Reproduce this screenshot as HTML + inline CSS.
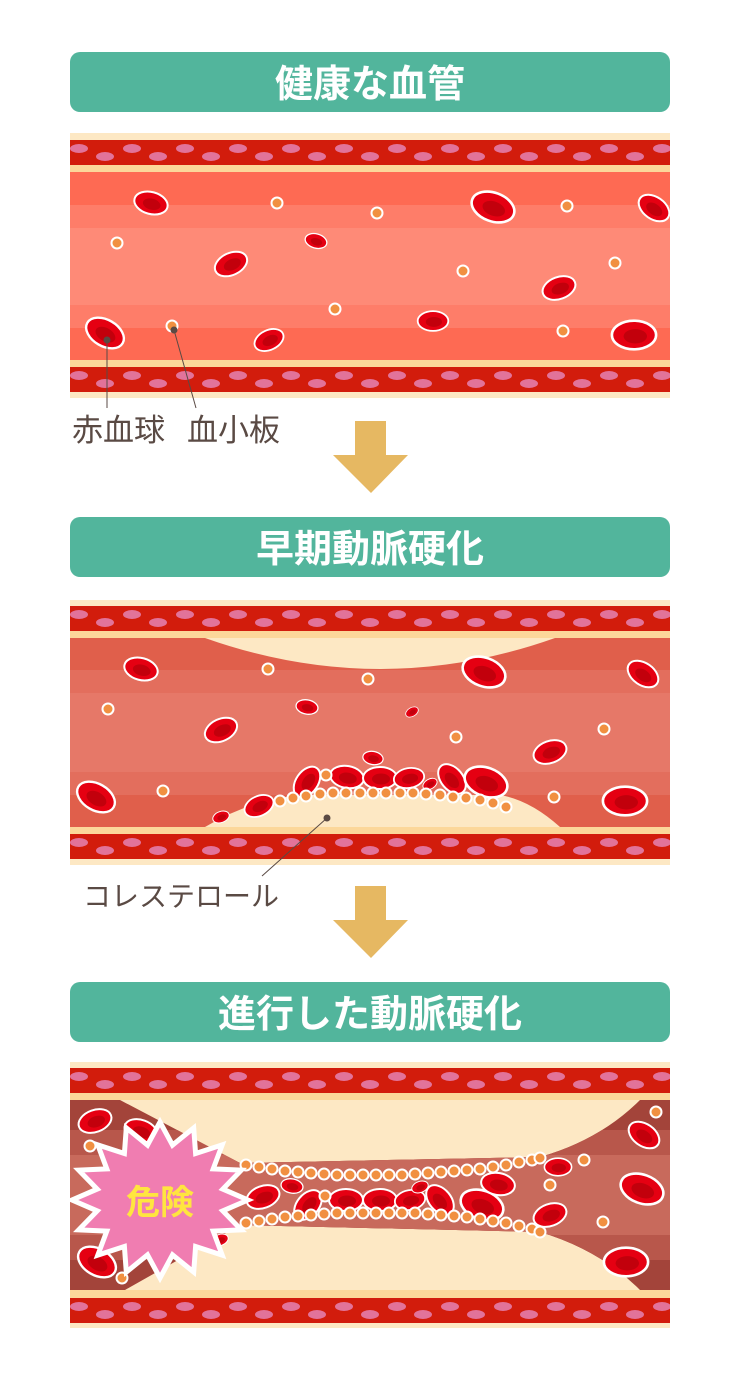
<!DOCTYPE html>
<html><head><meta charset="utf-8"><style>
html,body{margin:0;padding:0;background:#fff;width:740px;height:1380px;overflow:hidden}
svg{display:block}
text{font-family:"Liberation Sans","Noto Sans CJK JP",sans-serif}
</style></head><body>
<svg width="740" height="1380" viewBox="0 0 740 1380" xmlns="http://www.w3.org/2000/svg">
<defs>
<pattern id="wall" x="70" y="0" width="53" height="25" patternUnits="userSpaceOnUse">
<ellipse cx="9" cy="8.5" rx="9" ry="4.5" fill="#e2739a"/>
<ellipse cx="35" cy="16.5" rx="9" ry="4.5" fill="#e2739a"/>
</pattern>
<g id="w"><rect x="70" y="0" width="600" height="25" fill="#d21c0c"/><rect x="70" y="0" width="600" height="25" fill="url(#wall)"/></g>
<g id="rbc"><ellipse rx="17" ry="11" fill="#e50012" stroke="#fff" stroke-width="2"/><ellipse cx="1" cy="1" rx="9" ry="5.5" fill="#c2000c"/></g>
<g id="plt"><circle r="5.5" fill="#f19041" stroke="#fff" stroke-width="2"/></g>
<clipPath id="c3"><path d="M70,1100 L120,1100 L240,1163 L540,1157 Q600,1140 640,1100 L670,1100 L670,1290 L640,1290 Q600,1250 540,1232 L240,1225 L125,1290 L70,1290 Z"/></clipPath>
</defs>

<rect x="70" y="52" width="600" height="60" rx="10" fill="#52b59c"/>
<text x="370" y="97" font-size="38" font-weight="bold" fill="#fff" text-anchor="middle">健康な血管</text>
<rect x="70" y="517" width="600" height="60" rx="10" fill="#52b59c"/>
<text x="370" y="562" font-size="38" font-weight="bold" fill="#fff" text-anchor="middle">早期動脈硬化</text>
<rect x="70" y="982" width="600" height="60" rx="10" fill="#52b59c"/>
<text x="370" y="1027" font-size="38" font-weight="bold" fill="#fff" text-anchor="middle">進行した動脈硬化</text>

<polygon points="355,421 386,421 386,455 408,455 371,493 333,455 355,455" fill="#e6b862"/>
<polygon points="355,886 386,886 386,920 408,920 371,958 333,920 355,920" fill="#e6b862"/>

<!-- vessel 1 -->
<rect x="70" y="133" width="600" height="265" fill="#fde8c4"/>
<use href="#w" transform="translate(0,140)"/>
<rect x="70" y="165" width="600" height="7" fill="#fcd79a"/>
<rect x="70" y="172" width="600" height="188" fill="#fe6a53"/>
<rect x="70" y="205" width="600" height="123" fill="#fe7d69"/>
<rect x="70" y="228" width="600" height="77" fill="#fe8a77"/>
<rect x="70" y="360" width="600" height="7" fill="#fcd79a"/>
<use href="#w" transform="translate(0,367)"/>
<use href="#rbc" transform="translate(151,203) rotate(15)"/>
<use href="#rbc" transform="translate(316,241) rotate(15) scale(0.65)"/>
<use href="#rbc" transform="translate(231,264) rotate(-25)"/>
<use href="#rbc" transform="translate(493,207) rotate(20) scale(1.3)"/>
<use href="#rbc" transform="translate(559,288) rotate(-20)"/>
<use href="#rbc" transform="translate(433,321) scale(0.9)"/>
<use href="#rbc" transform="translate(654,208) rotate(35)"/>
<use href="#rbc" transform="translate(105,333) rotate(30) scale(1.2)"/>
<use href="#rbc" transform="translate(269,340) rotate(-25) scale(0.9)"/>
<use href="#rbc" transform="translate(634,335) scale(1.3)"/>
<use href="#plt" x="277" y="203"/><use href="#plt" x="377" y="213"/><use href="#plt" x="117" y="243"/>
<use href="#plt" x="463" y="271"/><use href="#plt" x="335" y="309"/><use href="#plt" x="567" y="206"/>
<use href="#plt" x="615" y="263"/><use href="#plt" x="563" y="331"/><use href="#plt" x="172" y="326"/>
<line x1="107" y1="340" x2="107" y2="408" stroke="#5a4a44" stroke-width="1"/>
<circle cx="107" cy="340" r="3.5" fill="#5a4a44"/>
<line x1="174" y1="330" x2="196" y2="408" stroke="#5a4a44" stroke-width="1"/>
<circle cx="174" cy="330" r="3.5" fill="#5a4a44"/>
<text x="72" y="441" font-size="31" fill="#5a4a44">赤血球</text>
<text x="187" y="441" font-size="31" fill="#5a4a44">血小板</text>

<!-- vessel 2 -->
<rect x="70" y="600" width="600" height="265" fill="#fde8c4"/>
<use href="#w" transform="translate(0,606)"/>
<rect x="70" y="631" width="600" height="7" fill="#fcd79a"/>
<rect x="70" y="638" width="600" height="189" fill="#e05f4b"/>
<rect x="70" y="670" width="600" height="125" fill="#e36e5d"/>
<rect x="70" y="693" width="600" height="79" fill="#e67868"/>
<path d="M205,638 Q380,700 555,638 Z" fill="#fde8c4"/>
<path d="M205,827 Q250,800 300,795 L500,795 Q530,800 560,827 Z" fill="#fde8c4"/>
<rect x="70" y="827" width="600" height="7" fill="#fcd79a"/>
<use href="#w" transform="translate(0,834)"/>
<use href="#rbc" transform="translate(141,669) rotate(15)"/>
<use href="#rbc" transform="translate(484,672) rotate(20) scale(1.3)"/>
<use href="#rbc" transform="translate(643,674) rotate(35)"/>
<use href="#rbc" transform="translate(307,707) rotate(10) scale(0.65)"/>
<use href="#rbc" transform="translate(412,712) rotate(-30) scale(0.4)"/>
<use href="#rbc" transform="translate(221,730) rotate(-25)"/>
<use href="#rbc" transform="translate(550,752) rotate(-20)"/>
<use href="#rbc" transform="translate(373,758) rotate(10) scale(0.6)"/>
<use href="#rbc" transform="translate(96,797) rotate(30) scale(1.2)"/>
<use href="#rbc" transform="translate(259,806) rotate(-25) scale(0.9)"/>
<use href="#rbc" transform="translate(221,817) rotate(-20) scale(0.5)"/>
<use href="#rbc" transform="translate(625,801) scale(1.3)"/>
<use href="#rbc" transform="translate(307,782) rotate(-55)"/>
<use href="#rbc" transform="translate(347,777) rotate(10)"/>
<use href="#rbc" transform="translate(380,778)"/>
<use href="#rbc" transform="translate(409,778) rotate(-10) scale(0.9)"/>
<use href="#rbc" transform="translate(430,784) rotate(-30) scale(0.45)"/>
<use href="#rbc" transform="translate(452,779) rotate(50)"/>
<use href="#rbc" transform="translate(486,782) rotate(20) scale(1.3)"/>
<use href="#plt" x="268" y="669"/><use href="#plt" x="368" y="679"/><use href="#plt" x="108" y="709"/>
<use href="#plt" x="456" y="737"/><use href="#plt" x="604" y="729"/><use href="#plt" x="163" y="791"/>
<use href="#plt" x="554" y="797"/><use href="#plt" x="326" y="775"/>
<g>
<use href="#plt" x="280" y="801"/><use href="#plt" x="293" y="798"/><use href="#plt" x="306" y="796"/><use href="#plt" x="320" y="794"/><use href="#plt" x="333" y="793"/><use href="#plt" x="346" y="793"/><use href="#plt" x="360" y="793"/><use href="#plt" x="373" y="793"/><use href="#plt" x="386" y="793"/><use href="#plt" x="400" y="793"/><use href="#plt" x="413" y="793"/><use href="#plt" x="426" y="794"/><use href="#plt" x="440" y="795"/><use href="#plt" x="453" y="797"/><use href="#plt" x="466" y="798"/><use href="#plt" x="480" y="800"/><use href="#plt" x="493" y="803"/><use href="#plt" x="506" y="807"/>
</g>
<circle cx="327" cy="818" r="3.5" fill="#5a4a44"/>
<line x1="327" y1="818" x2="262" y2="876" stroke="#5a4a44" stroke-width="1"/>
<text x="83" y="906" font-size="28" fill="#5a4a44">コレステロール</text>

<!-- vessel 3 -->
<rect x="70" y="1062" width="600" height="266" fill="#fde8c4"/>
<use href="#w" transform="translate(0,1068)"/>
<rect x="70" y="1093" width="600" height="7" fill="#fcd79a"/>
<rect x="70" y="1290" width="600" height="8" fill="#fcd79a"/>
<use href="#w" transform="translate(0,1298)"/>
<g clip-path="url(#c3)">
<rect x="70" y="1100" width="600" height="190" fill="#a3443a"/>
<rect x="70" y="1130" width="600" height="130" fill="#b8574b"/>
<rect x="70" y="1155" width="600" height="80" fill="#c86a5c"/>
</g>
<use href="#rbc" transform="translate(95,1121) rotate(-20)"/>
<use href="#rbc" transform="translate(141,1131) rotate(20)"/>
<use href="#rbc" transform="translate(644,1135) rotate(35)"/>
<use href="#rbc" transform="translate(642,1189) rotate(20) scale(1.3)"/>
<use href="#rbc" transform="translate(97,1262) rotate(30) scale(1.2)"/>
<use href="#rbc" transform="translate(626,1262) scale(1.3)"/>
<use href="#rbc" transform="translate(220,1240) rotate(-20) scale(0.5)"/>
<use href="#rbc" transform="translate(263,1197) rotate(-20)"/>
<use href="#rbc" transform="translate(550,1215) rotate(-20)"/>
<use href="#rbc" transform="translate(558,1167) scale(0.8)"/>
<use href="#rbc" transform="translate(292,1186) rotate(10) scale(0.65)"/>
<use href="#rbc" transform="translate(308,1205) rotate(-50)"/>
<use href="#rbc" transform="translate(346,1200)"/>
<use href="#rbc" transform="translate(380,1200)"/>
<use href="#rbc" transform="translate(410,1200) rotate(-10) scale(0.9)"/>
<use href="#rbc" transform="translate(440,1200) rotate(50)"/>
<use href="#rbc" transform="translate(482,1205) rotate(20) scale(1.3)"/>
<use href="#rbc" transform="translate(498,1184) rotate(10)"/>
<use href="#rbc" transform="translate(420,1187) rotate(-20) scale(0.5)"/>
<use href="#plt" x="90" y="1146"/><use href="#plt" x="122" y="1278"/><use href="#plt" x="656" y="1112"/>
<use href="#plt" x="603" y="1222"/><use href="#plt" x="584" y="1160"/><use href="#plt" x="550" y="1185"/><use href="#plt" x="325" y="1196"/>
<g>
<use href="#plt" x="246" y="1165"/><use href="#plt" x="259" y="1167"/><use href="#plt" x="272" y="1169"/><use href="#plt" x="285" y="1171"/><use href="#plt" x="298" y="1172"/><use href="#plt" x="311" y="1173"/><use href="#plt" x="324" y="1174"/><use href="#plt" x="337" y="1175"/><use href="#plt" x="350" y="1175"/><use href="#plt" x="363" y="1175"/><use href="#plt" x="376" y="1175"/><use href="#plt" x="389" y="1175"/><use href="#plt" x="402" y="1175"/><use href="#plt" x="415" y="1174"/><use href="#plt" x="428" y="1173"/><use href="#plt" x="441" y="1172"/><use href="#plt" x="454" y="1171"/><use href="#plt" x="467" y="1170"/><use href="#plt" x="480" y="1169"/><use href="#plt" x="493" y="1167"/><use href="#plt" x="506" y="1165"/><use href="#plt" x="519" y="1162"/><use href="#plt" x="532" y="1160"/><use href="#plt" x="540" y="1158"/>
<use href="#plt" x="246" y="1223"/><use href="#plt" x="259" y="1221"/><use href="#plt" x="272" y="1219"/><use href="#plt" x="285" y="1217"/><use href="#plt" x="298" y="1216"/><use href="#plt" x="311" y="1215"/><use href="#plt" x="324" y="1214"/><use href="#plt" x="337" y="1213"/><use href="#plt" x="350" y="1213"/><use href="#plt" x="363" y="1213"/><use href="#plt" x="376" y="1213"/><use href="#plt" x="389" y="1213"/><use href="#plt" x="402" y="1213"/><use href="#plt" x="415" y="1213"/><use href="#plt" x="428" y="1214"/><use href="#plt" x="441" y="1215"/><use href="#plt" x="454" y="1216"/><use href="#plt" x="467" y="1217"/><use href="#plt" x="480" y="1219"/><use href="#plt" x="493" y="1221"/><use href="#plt" x="506" y="1223"/><use href="#plt" x="519" y="1226"/><use href="#plt" x="532" y="1229"/><use href="#plt" x="540" y="1232"/>
</g>
<polygon points="248,1200 222.8,1210.9 241.3,1229.9 213.2,1231.1 222.2,1255.1 195.6,1246.5 193.7,1272.1 172.5,1254.9 160,1278 147.5,1254.9 126.3,1272.1 124.4,1246.5 97.8,1255.1 106.8,1231.1 78.7,1229.9 97.2,1210.9 72,1200 97.2,1189.1 78.7,1170.1 106.8,1168.9 97.8,1144.9 124.4,1153.5 126.3,1127.9 147.5,1145.1 160,1122 172.5,1145.1 193.7,1127.9 195.6,1153.5 222.2,1144.9 213.2,1168.9 241.3,1170.1 222.8,1189.1" fill="#f07db1" stroke="#fff" stroke-width="5" stroke-linejoin="miter"/>
<text x="160" y="1214" font-size="34" font-weight="bold" fill="#ffe53f" text-anchor="middle">危険</text>
</svg>
</body></html>
